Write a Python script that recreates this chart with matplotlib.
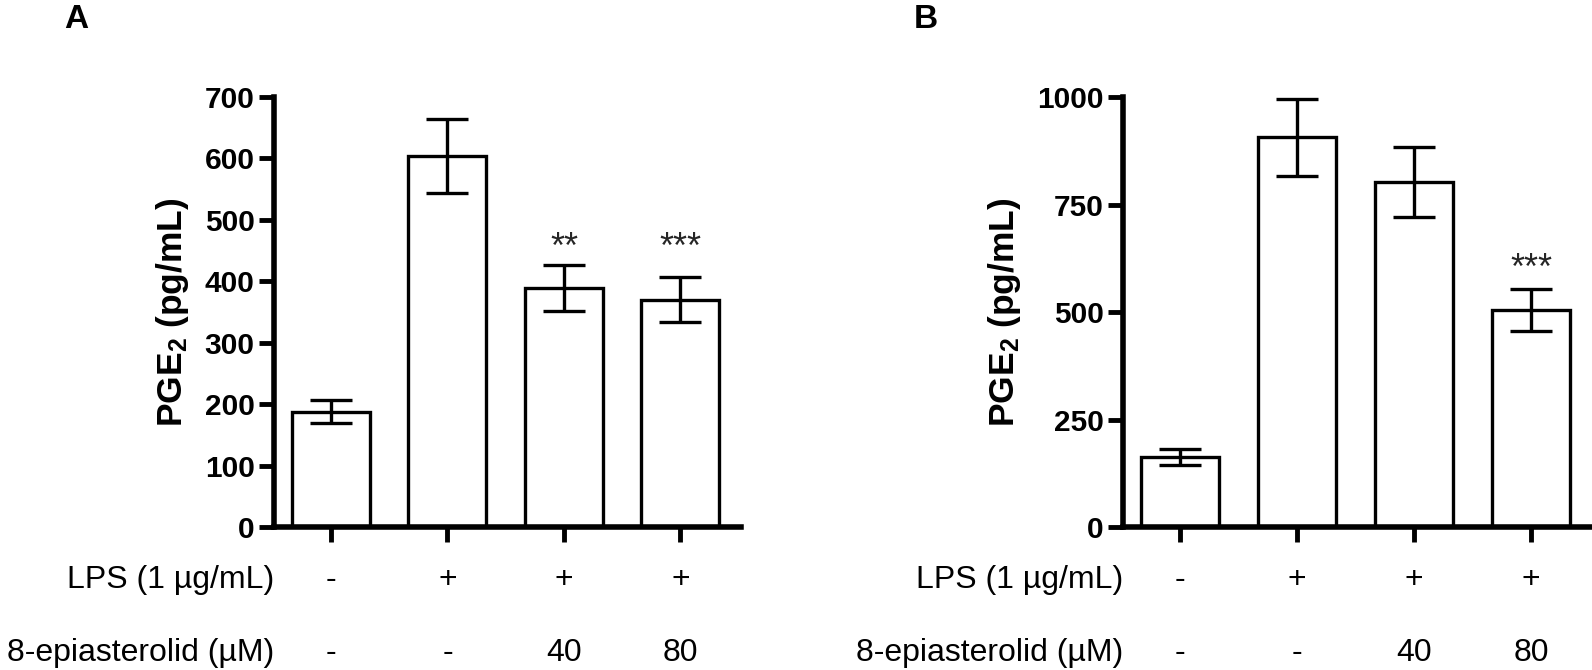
import matplotlib
matplotlib.use("Agg")
import matplotlib.pyplot as plt

plt.rcParams['font.family'] = ['Liberation Sans', 'DejaVu Sans']
plt.rcParams['mathtext.fontset'] = 'custom'
plt.rcParams['mathtext.bf'] = 'Liberation Sans:bold'
plt.rcParams['mathtext.rm'] = 'Liberation Sans'

groups = [0, 1, 2, 3]
lps_row = ['-', '+', '+', '+']
epi_row = ['-', '-', '40', '80']

a_mean = [188, 604, 389, 370]
a_err = [19, 61, 38, 37]
a_stars = ['', '', '**', '***']
a_star_y = 454

b_mean = [163, 906, 803, 505]
b_err = [18, 90, 81, 49]
b_stars = ['', '', '', '***']
b_star_y = 600

fig = plt.figure(figsize=(15.92, 6.7), dpi=100)
axA = fig.add_axes([0.1721, 0.2134, 0.2933, 0.6418])
axB = fig.add_axes([0.7054, 0.2134, 0.2946, 0.6418])


def panel(ax, means, errs, stars, star_y, ymax, yticks):
    ax.bar(groups, means, width=0.67, color='white', edgecolor='black', linewidth=2.4, zorder=2)
    ax.errorbar(groups, means, yerr=errs, fmt='none', ecolor='black',
                elinewidth=2.4, capsize=15, capthick=2.4, zorder=3)
    for x, s in zip(groups, stars):
        if s:
            ax.text(x, star_y, s, ha='center', va='center', fontsize=26, color='#262626')
    ax.set_xlim(-0.49, 3.52)
    ax.set_ylim(0, ymax)
    ax.set_yticks(yticks)
    ax.set_xticks(groups)
    ax.set_xticklabels([])
    for s in ['top', 'right']:
        ax.spines[s].set_visible(False)
    for s in ['left', 'bottom']:
        ax.spines[s].set_linewidth(4)
        ax.spines[s].set_capstyle('projecting')
    ax.tick_params(axis='y', direction='out', length=11, width=3.5, pad=3, labelsize=21.5)
    ax.tick_params(axis='x', direction='out', length=11, width=3.5)
    for lab in ax.get_yticklabels():
        lab.set_fontweight('bold')
    ax.set_ylabel(r'$\mathbf{PGE_2}$ (pg/mL)', fontsize=25.5, fontweight='bold', labelpad=10)

    tr = ax.get_xaxis_transform()
    ax.text(0, -0.123, 'LPS (1 µg/mL)', transform=ax.transAxes, ha='right', va='center', fontsize=23)
    ax.text(0, -0.293, '8-epiasterolid (µM)', transform=ax.transAxes, ha='right', va='center', fontsize=23)
    for x, a, b in zip(groups, lps_row, epi_row):
        ax.text(x, -0.123, a, transform=tr, ha='center', va='center', fontsize=23)
        ax.text(x, -0.293, b, transform=tr, ha='center', va='center', fontsize=23)


panel(axA, a_mean, a_err, a_stars, a_star_y, 700, range(0, 701, 100))
panel(axB, b_mean, b_err, b_stars, b_star_y, 1000, [0, 250, 500, 750, 1000])

fig.text(76 / 1592, 1 - 19 / 670, 'A', ha='center', va='center', fontsize=24, fontweight='bold')
fig.text(926 / 1592, 1 - 19 / 670, 'B', ha='center', va='center', fontsize=24, fontweight='bold')

fig.savefig('out.png', dpi=100)
